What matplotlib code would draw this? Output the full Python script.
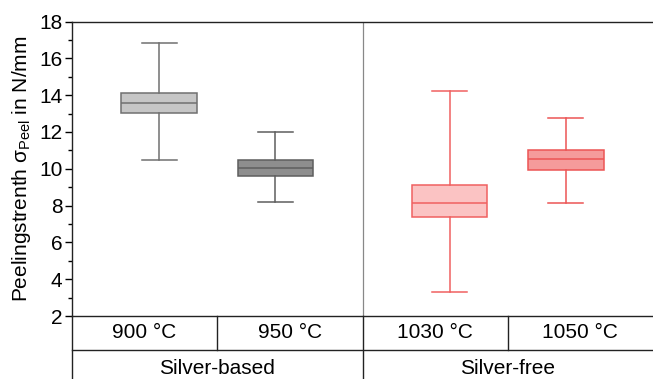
import matplotlib.pyplot as plt
from matplotlib.lines import Line2D

plt.rcParams['font.family'] = ['Liberation Sans', 'DejaVu Sans']
plt.rcParams['mathtext.fontset'] = 'custom'
plt.rcParams['mathtext.rm'] = 'Liberation Sans'
plt.rcParams['mathtext.it'] = 'Liberation Sans'

# box statistics (N/mm)
temps = ["900 °C", "950 °C", "1030 °C", "1050 °C"]
groups = ["Silver-based", "Silver-free"]
whislo = [10.45, 8.21, 3.32, 8.12]
q1 = [13.03, 9.60, 7.36, 9.95]
med = [13.56, 10.03, 8.16, 10.51]
q3 = [14.09, 10.46, 9.12, 11.02]
whishi = [16.85, 12.00, 14.24, 12.77]

positions = [1, 2, 3.5, 4.5]
fills = ["#c6c6c6", "#8e8e8e", "#fbc3c3", "#f59b9b"]
edges = ["#707070", "#5e5e5e", "#f06060", "#ec5555"]

fs = 15

fig = plt.figure(figsize=(6.53, 3.79), dpi=100)
ax = fig.add_axes([72 / 653, 1 - 316 / 379, 581 / 653, (316 - 21.5) / 379])

for i in range(len(temps)):
    stats = [dict(whislo=whislo[i], q1=q1[i], med=med[i], q3=q3[i],
                  whishi=whishi[i], fliers=[])]
    ec = edges[i]
    ax.bxp(stats, positions=[positions[i]], widths=0.65, capwidths=0.3,
           patch_artist=True, showfliers=False,
           boxprops=dict(facecolor=fills[i], edgecolor=ec, linewidth=1.1),
           medianprops=dict(color=ec, linewidth=1.1),
           whiskerprops=dict(color=ec, linewidth=1.1),
           capprops=dict(color=ec, linewidth=1.1))

ax.set_xlim(0.25, 5.25)
ax.set_ylim(2, 18)
ax.set_yticks(range(2, 19, 2))
ax.set_yticks(range(3, 18, 2), minor=True)
ax.set_xticks([])
ax.tick_params(axis='y', which='major', length=5, width=1, labelsize=fs, pad=2)
ax.tick_params(axis='y', which='minor', length=3, width=1)
ax.spines['right'].set_visible(False)
for s in ['left', 'top', 'bottom']:
    ax.spines[s].set_linewidth(1.0)
    ax.spines[s].set_color('#222222')

ax.set_ylabel("Peelingstrenth σ$_{\\mathrm{Peel}}$ in N/mm", fontsize=fs, labelpad=4)

# group divider inside the plot
ax.axvline(2.75, color='#888888', linewidth=0.9)

# category table below the axes (axes fraction coordinates)
row1 = -34 / 294.5
row2 = -(379 - 316) / 294.5
kw = dict(transform=ax.transAxes, clip_on=False, color='#222222', linewidth=1.0)
ax.add_line(Line2D([0, 1], [row1, row1], **kw))
ax.add_line(Line2D([0, 0], [0, row2], **kw))
ax.add_line(Line2D([0.5, 0.5], [0, row2], **kw))
for xb in [0.25, 0.75]:
    ax.add_line(Line2D([xb, xb], [0, row1], **kw))

for i, t in enumerate(temps):
    ax.text(0.125 + 0.25 * i, row1 / 2, t, transform=ax.transAxes,
            ha='center', va='center', fontsize=fs)
for i, g in enumerate(groups):
    ax.text(0.25 + 0.5 * i, -(368 - 316) / 294.5, g, transform=ax.transAxes,
            ha='center', va='center', fontsize=fs)

fig.savefig("out.png", dpi=100)
